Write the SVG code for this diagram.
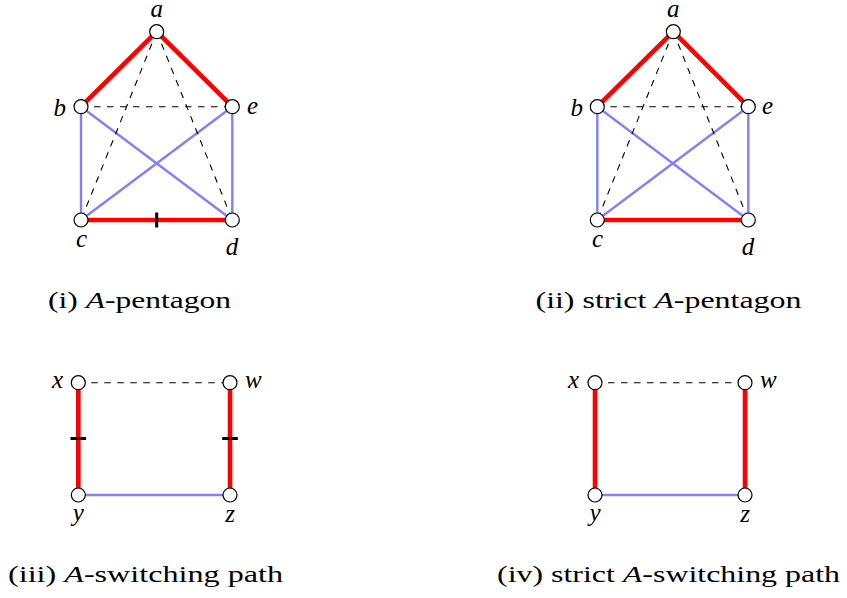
<svg xmlns="http://www.w3.org/2000/svg" width="847" height="598" viewBox="0 0 847 598">
<style>
.red{stroke:#ff0000;stroke-width:4.6;fill:none}
.blue{stroke:#8080ff;stroke-width:2.4;fill:none}
.dash{stroke:#000;stroke-width:1.1;stroke-dasharray:6.5 6.5;fill:none}
.tick{stroke:#000;stroke-width:3;fill:none}
.node circle{fill:#fff;stroke:#000;stroke-width:1.2}
.lbl{font-family:'Liberation Serif','DejaVu Serif',serif;font-style:italic;font-size:25px;fill:#000}
.cap{font-family:'Liberation Serif','DejaVu Serif',serif;font-size:24px;fill:#000}
.it{font-style:italic}
</style>
<rect width="847" height="598" fill="#fff"/>
<g id="connectors">
  <line class="blue" x1="81" y1="106.7" x2="81" y2="220"/>
  <line class="blue" x1="232.3" y1="106.7" x2="232.3" y2="220"/>
  <line class="blue" x1="81" y1="106.7" x2="232.3" y2="220"/>
  <line class="blue" x1="232.3" y1="106.7" x2="81" y2="220"/>
  <line class="dash" x1="156.7" y1="31.7" x2="81" y2="220"/>
  <line class="dash" x1="156.7" y1="31.7" x2="232.3" y2="220"/>
  <line class="dash" x1="81" y1="106.7" x2="232.3" y2="106.7"/>
  <line class="red" x1="156.7" y1="31.7" x2="81" y2="106.7"/>
  <line class="red" x1="156.7" y1="31.7" x2="232.3" y2="106.7"/>
  <line class="red" x1="81" y1="220" x2="232.3" y2="220"/>
  <line class="tick" x1="156.7" y1="212.5" x2="156.7" y2="227.5"/>
  <line class="blue" x1="597.3" y1="106.7" x2="597.3" y2="220"/>
  <line class="blue" x1="748.3" y1="106.7" x2="748.3" y2="220"/>
  <line class="blue" x1="597.3" y1="106.7" x2="748.3" y2="220"/>
  <line class="blue" x1="748.3" y1="106.7" x2="597.3" y2="220"/>
  <line class="dash" x1="673.3" y1="31.7" x2="597.3" y2="220"/>
  <line class="dash" x1="673.3" y1="31.7" x2="748.3" y2="220"/>
  <line class="dash" x1="597.3" y1="106.7" x2="748.3" y2="106.7"/>
  <line class="red" x1="673.3" y1="31.7" x2="597.3" y2="106.7"/>
  <line class="red" x1="673.3" y1="31.7" x2="748.3" y2="106.7"/>
  <line class="red" x1="597.3" y1="220" x2="748.3" y2="220"/>
  <line class="dash" x1="78.3" y1="382.7" x2="230" y2="382.7"/>
  <line class="blue" x1="78.3" y1="495" x2="230" y2="495"/>
  <line class="red" x1="78.3" y1="382.7" x2="78.3" y2="495"/>
  <line class="red" x1="230" y1="382.7" x2="230" y2="495"/>
  <line class="tick" x1="70.5" y1="438.5" x2="86.1" y2="438.5"/>
  <line class="tick" x1="222.2" y1="438.5" x2="237.8" y2="438.5"/>
  <line class="dash" x1="595" y1="382.7" x2="745" y2="382.7"/>
  <line class="blue" x1="595" y1="495" x2="745" y2="495"/>
  <line class="red" x1="595" y1="382.7" x2="595" y2="495"/>
  <line class="red" x1="745" y1="382.7" x2="745" y2="495"/>
</g>
<g id="n1a" class="node"><circle cx="156.7" cy="31.7" r="7"/><text class="lbl" x="156.7" y="17" text-anchor="middle">a</text></g>
<g id="n1b" class="node"><circle cx="81" cy="106.7" r="7"/><text class="lbl" x="66" y="116" text-anchor="end">b</text></g>
<g id="n1e" class="node"><circle cx="232.3" cy="106.7" r="7"/><text class="lbl" x="247" y="114">e</text></g>
<g id="n1c" class="node"><circle cx="81" cy="220" r="7"/><text class="lbl" x="81.5" y="247" text-anchor="middle">c</text></g>
<g id="n1d" class="node"><circle cx="232.3" cy="220" r="7"/><text class="lbl" x="232" y="255" text-anchor="middle">d</text></g>

<g id="n2a" class="node"><circle cx="673.3" cy="31.7" r="7"/><text class="lbl" x="673.3" y="17" text-anchor="middle">a</text></g>
<g id="n2b" class="node"><circle cx="597.3" cy="106.7" r="7"/><text class="lbl" x="583" y="116" text-anchor="end">b</text></g>
<g id="n2e" class="node"><circle cx="748.3" cy="106.7" r="7"/><text class="lbl" x="762" y="114">e</text></g>
<g id="n2c" class="node"><circle cx="597.3" cy="220" r="7"/><text class="lbl" x="597.5" y="247" text-anchor="middle">c</text></g>
<g id="n2d" class="node"><circle cx="748.3" cy="220" r="7"/><text class="lbl" x="748" y="255" text-anchor="middle">d</text></g>

<g id="n3x" class="node"><circle cx="78.3" cy="382.7" r="7"/><text class="lbl" x="63" y="388" text-anchor="end">x</text></g>
<g id="n3w" class="node"><circle cx="230" cy="382.7" r="7"/><text class="lbl" x="245" y="388">w</text></g>
<g id="n3y" class="node"><circle cx="78.3" cy="495" r="7"/><text class="lbl" x="78.3" y="521" text-anchor="middle">y</text></g>
<g id="n3z" class="node"><circle cx="230" cy="495" r="7"/><text class="lbl" x="230" y="522" text-anchor="middle">z</text></g>

<g id="n4x" class="node"><circle cx="595" cy="382.7" r="7"/><text class="lbl" x="579" y="388" text-anchor="end">x</text></g>
<g id="n4w" class="node"><circle cx="745" cy="382.7" r="7"/><text class="lbl" x="760" y="388">w</text></g>
<g id="n4y" class="node"><circle cx="595" cy="495" r="7"/><text class="lbl" x="595" y="521" text-anchor="middle">y</text></g>
<g id="n4z" class="node"><circle cx="745" cy="495" r="7"/><text class="lbl" x="745" y="522" text-anchor="middle">z</text></g>

<g id="captions">
  <text class="cap" x="48" y="307.5" textLength="183" lengthAdjust="spacingAndGlyphs">(i) <tspan class="it">A</tspan>-pentagon</text>
  <text class="cap" x="535.5" y="307.5" textLength="266" lengthAdjust="spacingAndGlyphs">(ii) strict <tspan class="it">A</tspan>-pentagon</text>
  <text class="cap" x="8" y="582" textLength="275" lengthAdjust="spacingAndGlyphs">(iii) <tspan class="it">A</tspan>-switching path</text>
  <text class="cap" x="497" y="582" textLength="343" lengthAdjust="spacingAndGlyphs">(iv) strict <tspan class="it">A</tspan>-switching path</text>
</g>
</svg>
